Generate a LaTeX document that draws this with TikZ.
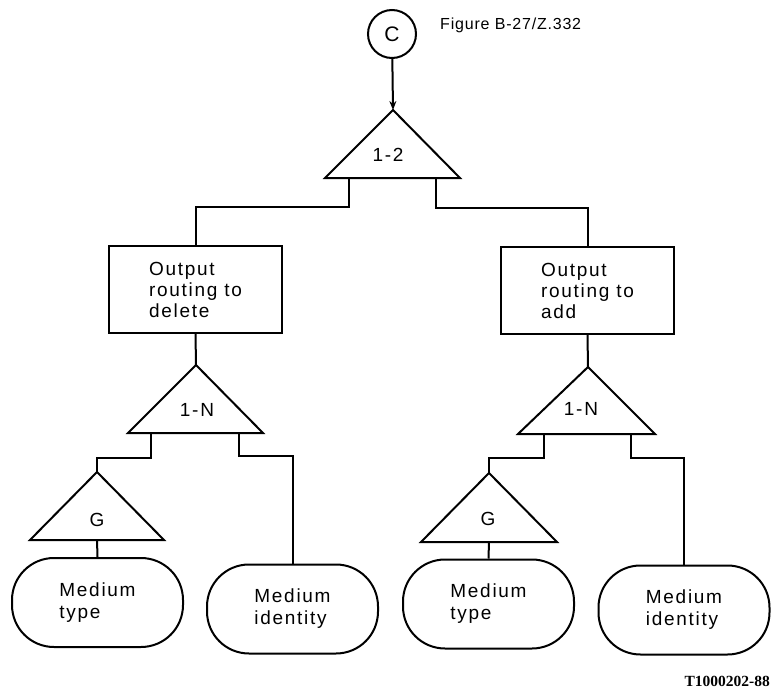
\documentclass[tikz,border=0pt]{standalone}
\usepackage{fontspec}
\setmainfont{Liberation Sans}[LetterSpace=9]
\newfontfamily\capfont{Liberation Sans}[LetterSpace=5]
\newfontfamily\codefont{Liberation Serif}
\usetikzlibrary{arrows.meta}
\begin{document}
\begin{tikzpicture}[x=1pt,y=-1pt,
  ln/.style={line width=2pt, line join=miter},
  txt/.style={font=\fontsize{19}{21}\selectfont, inner sep=0pt},
  box/.style={ln, draw, rectangle, minimum width=173pt, minimum height=87pt, align=left, font=\fontsize{19}{21}\selectfont, inner sep=0pt},
  term/.style={ln, draw, rectangle, rounded corners=42pt, minimum width=171pt, minimum height=89pt, align=left, font=\fontsize{19}{22}\selectfont, inner sep=0pt},
  conn/.style={circle, draw, ln, minimum size=48pt, inner sep=0pt, font=\fontsize{21}{23}\selectfont}]
\useasboundingbox (0,0) rectangle (774,691);

% connector circle and caption
\node[conn] (C) at (392,34) {C};
\node[anchor=west, inner sep=0pt, font=\capfont\fontsize{16}{19}\selectfont] (fig) at (440,25) {Figure B-27/Z.332};

% triangle 1-2
\draw[ln] (393,110) coordinate (A12) -- (460,178) -- (325,178) -- cycle;
\coordinate (L12) at (349,178);
\coordinate (R12) at (436,178);
\node[txt] (T12) at (388,155) {1-2};
\draw[ln, -{Stealth[length=9pt,width=7pt]}] (C) -- (A12);

% boxes
\node[box] (Bdel) at (195.5,289.5) {Output\\routing to\\delete};
\node[box] (Badd) at (587.5,290.5) {Output\\routing to\\add};
\draw[ln] (L12) -- ++(0,29) -| (Bdel.north);
\draw[ln] (R12) -- ++(0,30) -| (Badd.north);

% left 1-N triangle
\draw[ln] (196,365) coordinate (A1) -- (263,433) -- (128,433) -- cycle;
\coordinate (L1) at (151,433);
\coordinate (R1) at (239,433);
\node[txt] (T1) at (197,410) {1-N};
\draw[ln] (Bdel.south) -- (A1);

% left G triangle
\draw[ln] (97,472) coordinate (AG1) -- (164,540) -- (30,540) -- cycle;
\coordinate (BG1) at (97,540);
\node[txt] (G1) at (97,520) {G};
\draw[ln] (L1) -- ++(0,25) -| (AG1);

% left terminals
\node[term] (MT1) at (97.5,602.5) {Medium\\type};
\node[term] (MI1) at (292.5,609) {Medium\\identity};
\draw[ln] (BG1) -- (MT1.north);
\draw[ln] (R1) -- ++(0,23) -| (MI1.north);

% right 1-N triangle
\draw[ln] (588,367) coordinate (A2) -- (655,434) -- (518,434) -- cycle;
\coordinate (L2) at (544,434);
\coordinate (R2) at (631,434);
\node[txt] (T2) at (581,409) {1-N};
\draw[ln] (Badd.south) -- (A2);

% right G triangle
\draw[ln] (489,473) coordinate (AG2) -- (557,542) -- (421,542) -- cycle;
\coordinate (BG2) at (489,542);
\node[txt] (G2) at (488,519) {G};
\draw[ln] (L2) -- ++(0,24) -| (AG2);

% right terminals
\node[term] (MT2) at (488.5,604) {Medium\\type};
\node[term] (MI2) at (684,610) {Medium\\identity};
\draw[ln] (BG2) -- (MT2.north);
\draw[ln] (R2) -- ++(0,24) -| (MI2.north);

% reference code
\node[anchor=east, inner sep=0pt, font=\codefont\bfseries\fontsize{15.5}{17}\selectfont] (code) at (770,681) {T1000202-88};
\end{tikzpicture}
\end{document}
